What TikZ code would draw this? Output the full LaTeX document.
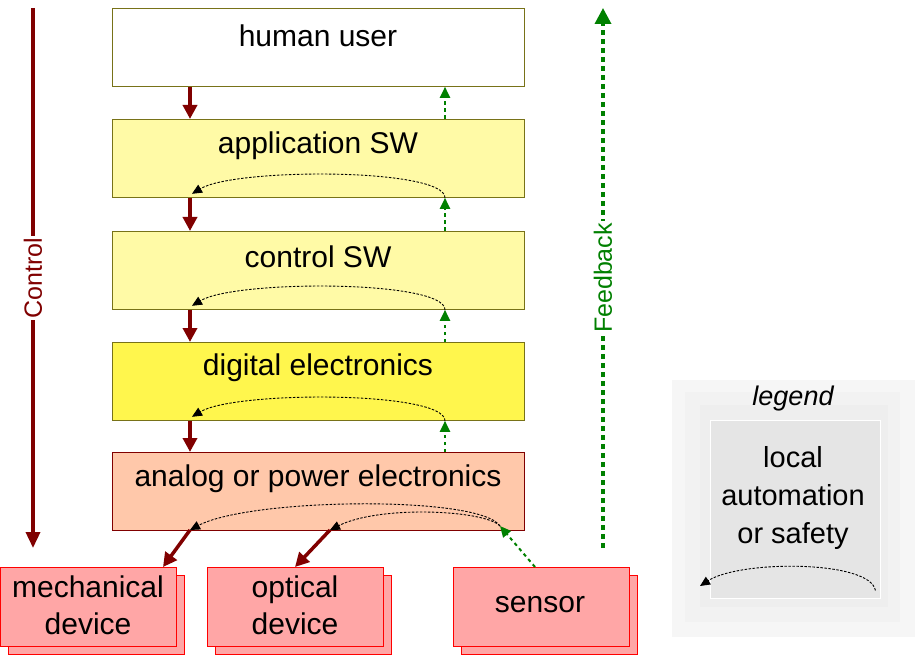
\documentclass[tikz,border=0pt]{standalone}
\usepackage{fontspec}
\setmainfont{Liberation Sans}
\usetikzlibrary{arrows.meta,calc}
\definecolor{dred}{HTML}{800000}
\definecolor{dgreen}{HTML}{008000}
\definecolor{anaf}{HTML}{FFC8AA}
\begin{document}
\begin{tikzpicture}[x=1pt,y=-1pt,
 lay/.style={draw=olive!80!black,line width=0.8pt,anchor=north west,minimum width=412pt,minimum height=78pt,inner sep=0pt},
 dev/.style={draw=red,fill=red!35,line width=1pt,anchor=north west,minimum width=176pt,minimum height=79pt,inner sep=0pt},
 lbl/.style={font=\fontsize{30}{36}\selectfont},
 dlbl/.style={font=\fontsize{30}{37}\selectfont,align=center},
 ctl/.style={dred,line width=3.5pt,-{Triangle[length=14pt,width=14pt]}},
 fb/.style={dgreen,line width=2pt,dash pattern=on 3.5pt off 3.5pt,-{Triangle[length=11pt,width=10pt]}},
 loop/.style={black,line width=0.9pt,dash pattern=on 2.5pt off 1.5pt,-{Triangle[length=10pt,width=9pt]}}]
\useasboundingbox (0,0) rectangle (920,660);
\node[lay,fill=white] (hu) at (112,8) {};
\node[lay,fill=yellow!35] (app) at (112,119) {};
\node[lay,fill=yellow!35] (csw) at (112,231) {};
\node[lay,fill=yellow!70] (dig) at (112,342) {};
\node[lay,fill=anaf,draw=dred] (ana) at (112,452) {};
\node[lbl] at (318,36) {human user};
\node[lbl] at (318,146) {application SW};
\node[lbl] at (318,257) {control SW};
\node[lbl] at (318,368) {digital electronics};
\node[lbl] at (318,479) {analog or power electronics};
\foreach \n/\x in {mech/0,opt/207,sen/453}{
 \node[dev] (\n s) at (\x+8,575) {};
 \node[dev] (\n) at (\x,567) {};}
\node[dlbl] at (88,605) {mechanical\\device};
\node[dlbl] at (295,605) {optical\\device};
\node[dlbl] at (540,605) {sensor};
% control arrows
\foreach \a/\b in {hu/app,app/csw,csw/dig,dig/ana}{
 \draw[ctl] ($(\a.south west)+(78,0)$) coordinate (c\a) -- (\b.north west -| c\a);
 \draw[fb] ($(\b.north west)+(333,0)$) coordinate (f\b) -- (\a.south west -| f\b);}
\foreach \a in {app,csw,dig}{
 \draw[loop] ($(\a.south west)+(333,0)$) coordinate (l\a) .. controls ($(l\a)+(0,-30)$) and ($(l\a)+(-210,-30)$) .. ($(\a.south west)+(80,-4)$);}
\coordinate (ab) at (500,526);
\draw[loop] (ab) .. controls (480,495) and (250,498) .. (190,530);
\draw[loop] (ab) .. controls (485,510) and (380,505) .. (330,530);
\draw[ctl] (190,530) -- ($(mech.north east)+(-14,0)$);
\draw[ctl] (330,530) -- ($(opt.north west)+(88,0)$);
\draw[fb] ($(sen.north west)+(82,0)$) -- (ab);
% big arrows
\draw[dred,line width=3.5pt,-{Triangle[length=16pt,width=14pt]}] (33,8) -- node[fill=white,rotate=90,inner sep=2pt,font=\fontsize{25}{30}\selectfont]{Control} (33,548);
\draw[dgreen,line width=3.5pt,dash pattern=on 5pt off 4pt,-{Triangle[length=16pt,width=16pt]}] (603,548) -- node[fill=white,rotate=90,inner sep=2pt,font=\fontsize{25}{30}\selectfont]{Feedback} (603,8);
% legend
\fill[gray!7] (672,380) rectangle (915,637);
\fill[gray!10] (685,392) rectangle (900,622);
\fill[gray!13] (700,405) rectangle (888,607);
\node[draw=white,fill=gray!20,anchor=north west,minimum width=170pt,minimum height=178pt,inner sep=0pt] (lg) at (710,420) {};
\node[font=\fontsize{27}{32}\selectfont\itshape] at (793,399) {legend};
\node[align=center,font=\fontsize{29}{38}\selectfont] at (793,498) {local\\automation\\or safety};
\draw[loop] ($(lg.south east)+(-5,-8)$) .. controls (870,560) and (740,560) .. (700,586);
\end{tikzpicture}
\end{document}
